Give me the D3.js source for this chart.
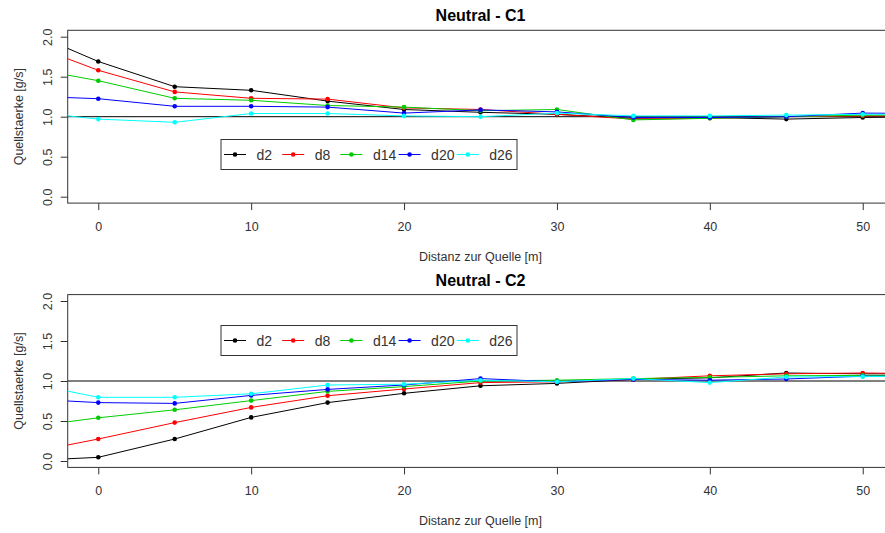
<!DOCTYPE html>
<html>
<head>
<meta charset="utf-8">
<script src="https://cdn.jsdelivr.net/npm/d3@7/dist/d3.min.js"></script>
<style>
  html, body { margin: 0; padding: 0; background: #fff; }
  svg { display: block; font-family: "Liberation Sans", Arial, sans-serif; }
</style>
</head>
<body>
<svg id="chart" width="885" height="533"></svg>
<script>
// Distance from the source [m]; the outer points only feed the clipped line ends
const distances = [-5, 0, 5, 10, 15, 20, 25, 30, 35, 40, 45, 50, 55];
const seriesNames = ["d2", "d8", "d14", "d20", "d26"];
const seriesColors = ["#000000", "#ff0000", "#00cd00", "#0000ff", "#00ffff"];
const xTicks = [0, 10, 20, 30, 40, 50];
const yTicks = [0.0, 0.5, 1.0, 1.5, 2.0];

// Neutral - C1
const c1_d2  = [2.10, 1.69, 1.375, 1.33, 1.195, 1.09, 1.055, 1.03, 0.98, 0.99, 0.97, 0.99, 1.00];
const c1_d8  = [1.94, 1.58, 1.31, 1.23, 1.22, 1.11, 1.09, 1.03, 0.97, 0.98, 1.00, 1.01, 1.01];
const c1_d14 = [1.625, 1.45, 1.23, 1.205, 1.14, 1.12, 1.075, 1.09, 0.96, 0.98, 1.00, 1.02, 1.02];
const c1_d20 = [1.26, 1.225, 1.13, 1.13, 1.12, 1.045, 1.085, 1.06, 0.99, 0.99, 1.00, 1.045, 1.04];
const c1_d26 = [1.07, 0.97, 0.93, 1.04, 1.04, 1.01, 1.00, 1.045, 1.01, 1.01, 1.02, 1.03, 1.03];

// Neutral - C2
const c2_d2  = [0.00, 0.046, 0.275, 0.545, 0.73, 0.846, 0.94, 0.97, 1.02, 1.04, 1.10, 1.09, 1.09];
const c2_d8  = [0.0875, 0.275, 0.48, 0.67, 0.816, 0.90, 0.98, 0.99, 1.02, 1.065, 1.09, 1.10, 1.09];
const c2_d14 = [0.415, 0.54, 0.64, 0.755, 0.87, 0.93, 1.00, 1.01, 1.03, 1.045, 1.065, 1.07, 1.07];
const c2_d20 = [0.78, 0.73, 0.72, 0.82, 0.895, 0.95, 1.03, 0.99, 1.02, 1.01, 1.025, 1.06, 1.06];
const c2_d26 = [0.99, 0.796, 0.796, 0.84, 0.95, 0.96, 1.01, 0.99, 1.03, 0.98, 1.05, 1.055, 1.06];

const panels = [
  { title: "Neutral - C1", series: [c1_d2, c1_d8, c1_d14, c1_d20, c1_d26], top: 30.3, legendY: 154.5 },
  { title: "Neutral - C2", series: [c2_d2, c2_d8, c2_d14, c2_d20, c2_d26], top: 294.6, legendY: 340.5 }
];

const svg = d3.select("#chart");
const plotLeft = 67.7, plotRight = 893.3, plotH = 172.8;
const textColor = "#333";

const x = d3.scaleLinear().domain([-2, 52]).range([plotLeft, plotRight]);

panels.forEach((p, pi) => {
  const y = d3.scaleLinear().domain([-0.08, 2.08]).range([p.top + plotH, p.top]);
  const g = svg.append("g");
  const clipId = "clip" + pi;
  svg.append("clipPath").attr("id", clipId)
    .append("rect").attr("x", plotLeft).attr("y", p.top)
    .attr("width", plotRight - plotLeft).attr("height", plotH);

  // title
  g.append("text").attr("x", (plotLeft + plotRight) / 2).attr("y", p.top - 14.5)
    .attr("text-anchor", "middle").attr("dominant-baseline", "central")
    .attr("font-size", 16).attr("font-weight", "bold").attr("fill", "#000")
    .text(p.title);

  // x axis
  const xa = g.append("g").attr("transform", `translate(0,${p.top + plotH})`)
    .call(d3.axisBottom(x).tickValues(xTicks).tickSize(7).tickPadding(12).tickFormat(d3.format("d")));
  xa.select(".domain").remove();
  xa.selectAll("line").attr("stroke", textColor);
  xa.selectAll("text").attr("font-size", 12.5).attr("fill", textColor)
    .attr("font-family", "'Liberation Sans', Arial, sans-serif");

  // y axis
  const ya = g.append("g").attr("transform", `translate(${plotLeft},0)`)
    .call(d3.axisLeft(y).tickValues(yTicks).tickSize(7).tickFormat(d3.format(".1f")));
  ya.select(".domain").remove();
  ya.selectAll("line").attr("stroke", textColor);
  ya.selectAll("text").attr("x", null).attr("dy", "0.35em")
    .attr("transform", "translate(-20,0) rotate(-90)")
    .attr("text-anchor", "middle").attr("font-size", 12.5).attr("fill", textColor)
    .attr("font-family", "'Liberation Sans', Arial, sans-serif");

  // axis titles
  g.append("text").attr("x", (plotLeft + plotRight) / 2).attr("y", p.top + plotH + 54)
    .attr("text-anchor", "middle").attr("dominant-baseline", "central")
    .attr("font-size", 12.5).attr("fill", textColor).text("Distanz zur Quelle [m]");
  g.append("text").attr("transform", `translate(18.5,${p.top + plotH / 2}) rotate(-90)`)
    .attr("text-anchor", "middle").attr("dominant-baseline", "central")
    .attr("font-size", 12.5).attr("fill", textColor).text("Quellstaerke [g/s]");

  // plot frame
  g.append("rect").attr("x", plotLeft).attr("y", p.top)
    .attr("width", plotRight - plotLeft).attr("height", plotH)
    .attr("fill", "none").attr("stroke", textColor).attr("stroke-width", 1);

  const inner = g.append("g").attr("clip-path", `url(#${clipId})`);

  // reference line at 1.0
  inner.append("line").attr("x1", plotLeft).attr("x2", plotRight)
    .attr("y1", y(1)).attr("y2", y(1)).attr("stroke", "#000").attr("stroke-width", 1);

  const line = d3.line().x((d, i) => x(distances[i])).y(d => y(d));
  p.series.forEach((vals, si) => {
    inner.append("path").datum(vals).attr("d", line)
      .attr("fill", "none").attr("stroke", seriesColors[si]).attr("stroke-width", 1);
    inner.selectAll(null).data(vals).enter().append("circle")
      .attr("cx", (d, i) => x(distances[i])).attr("cy", d => y(d))
      .attr("r", 2.3).attr("fill", seriesColors[si]);
  });

  // legend
  const lg = g.append("g");
  const lx0 = 221, lx1 = 517, lh = 30;
  lg.append("rect").attr("x", lx0).attr("y", p.legendY - lh / 2)
    .attr("width", lx1 - lx0).attr("height", lh)
    .attr("fill", "#fff").attr("stroke", textColor).attr("stroke-width", 1);
  seriesNames.forEach((name, si) => {
    const px = 235 + si * 58.2;
    lg.append("line").attr("x1", px - 11).attr("x2", px + 11)
      .attr("y1", p.legendY).attr("y2", p.legendY)
      .attr("stroke", seriesColors[si]).attr("stroke-width", 1);
    lg.append("circle").attr("cx", px).attr("cy", p.legendY).attr("r", 2.3)
      .attr("fill", seriesColors[si]);
    lg.append("text").attr("x", px + 21.5).attr("y", p.legendY)
      .attr("dominant-baseline", "central").attr("font-size", 14)
      .attr("fill", textColor).text(name);
  });
});
</script>
</body>
</html>
